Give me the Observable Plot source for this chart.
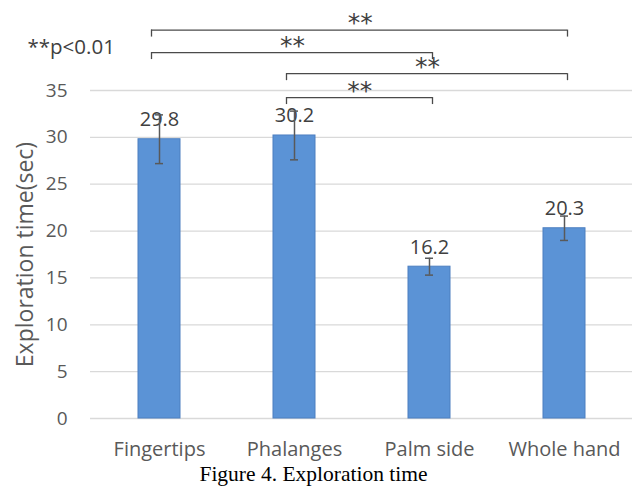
<!DOCTYPE html>
<html><head><meta charset="utf-8">
<script src="https://cdn.jsdelivr.net/npm/d3@7"></script>
<script src="https://cdn.jsdelivr.net/npm/@observablehq/plot@0.6"></script>
<style>
body{margin:0;background:#fff;}
#chart{width:639px;}
.caption{font-family:"Liberation Serif","Times New Roman",serif;font-size:21.5px;line-height:24px;text-align:center;color:#000;width:627px;}
</style></head><body>
<div id="chart"></div>
<div class="caption">Figure 4. Exploration time</div>
<script>
// ---- data ----
const categories = ["Fingertips", "Phalanges", "Palm side", "Whole hand"];
const means = [29.8, 30.2, 16.2, 20.3];
const errors = [2.6, 2.6, 0.9, 1.3];
const yTicks = [0, 5, 10, 15, 20, 25, 30, 35];
const bracketFrom = ["Fingertips", "Fingertips", "Phalanges", "Phalanges"];
const bracketTo = ["Whole hand", "Palm side", "Whole hand", "Palm side"];
const bracketLevel = [41.45, 39.05, 36.8, 34.25];
const bracketLabel = ["**", "**", "**", "**"];
const noteText = "**p<0.01";
const yLabel = "Exploration time(sec)";

// ---- layout ----
const W = 639, H = 462, mL = 90, mR = 7, mT = 90, mB = 44;
const padInner = 0.69, padOuter = 0.345;
const step = (W - mL - mR) / (categories.length - padInner + 2 * padOuter);
const bw = step * (1 - padInner);
const textColor = "#595959";
const font = "'Open Sans', 'Noto Sans', sans-serif";

const table = categories.map((c, i) => ({category: c, mean: means[i], lo: means[i] - errors[i], hi: means[i] + errors[i]}));
const brackets = bracketFrom.map((f, i) => ({from: f, to: bracketTo[i], level: bracketLevel[i], label: bracketLabel[i]}));

const leftOff = -8, rightOff = 3, tickLen = 0.75;

const bracketMarks = [
  Plot.ruleY(brackets, {y: "level", x1: "from", x2: "to", insetLeft: bw / 2 + leftOff, insetRight: bw / 2 - rightOff, stroke: "#4a4a4a", strokeWidth: 1.3}),
  Plot.ruleX(brackets, {x: "from", y1: "level", y2: d => d.level - tickLen, dx: leftOff, stroke: "#4a4a4a", strokeWidth: 1.3}),
  Plot.ruleX(brackets, {x: "to", y1: "level", y2: d => d.level - tickLen, dx: rightOff, stroke: "#4a4a4a", strokeWidth: 1.3}),
  ...brackets.map(b => Plot.text([b], {
    x: "from", y: "level", text: "label",
    dx: (categories.indexOf(b.to) - categories.indexOf(b.from)) * step / 2 + (leftOff + rightOff) / 2,
    dy: -7, fontSize: 25, fontFamily: "'DejaVu Sans', sans-serif", fill: "#404040", letterSpacing: "1px"
  }))
];

const chart = Plot.plot({
  width: W, height: H,
  marginLeft: mL, marginRight: mR, marginTop: mT, marginBottom: mB,
  style: {fontFamily: font, color: textColor, background: "#fff", overflow: "visible"},
  x: {domain: categories, paddingInner: padInner, paddingOuter: padOuter, label: null},
  y: {domain: [0, 35], label: null},
  marks: [
    Plot.ruleY(yTicks, {stroke: "#d9d9d9", strokeWidth: 1.3}),
    Plot.axisY({ticks: yTicks, tickSize: 0, tickPadding: 23, fontSize: 19, fill: textColor, label: null}),
    Plot.axisX({tickSize: 0, tickPadding: 23, fontSize: 20, fill: textColor, label: null}),
    Plot.barY(table, {x: "category", y: "mean", fill: "#5b93d6", stroke: "#4d7fc0", strokeWidth: 1}),
    Plot.text(table, {x: "category", y: "mean", text: d => d.mean.toFixed(1), dy: -19.5, fontSize: 20, fill: "#404040"}),
    Plot.ruleX(table, {x: "category", y1: "lo", y2: "hi", stroke: "#595959", strokeWidth: 1.5}),
    Plot.tickY(table, {x: "category", y: "lo", insetLeft: bw / 2 - 4, insetRight: bw / 2 - 4, stroke: "#595959", strokeWidth: 1.5}),
    Plot.tickY(table, {x: "category", y: "hi", insetLeft: bw / 2 - 4, insetRight: bw / 2 - 4, stroke: "#595959", strokeWidth: 1.5}),
    ...bracketMarks,
    Plot.text([noteText], {frameAnchor: "top-left", dx: -63, dy: -43, textAnchor: "start", lineAnchor: "middle", fontSize: 20.5, fill: "#404040"}),
    Plot.text([yLabel], {frameAnchor: "left", rotate: -90, dx: -65, textAnchor: "middle", lineAnchor: "middle", fontSize: 23, fill: textColor})
  ]
});
document.getElementById("chart").appendChild(chart);
</script>
</body></html>
